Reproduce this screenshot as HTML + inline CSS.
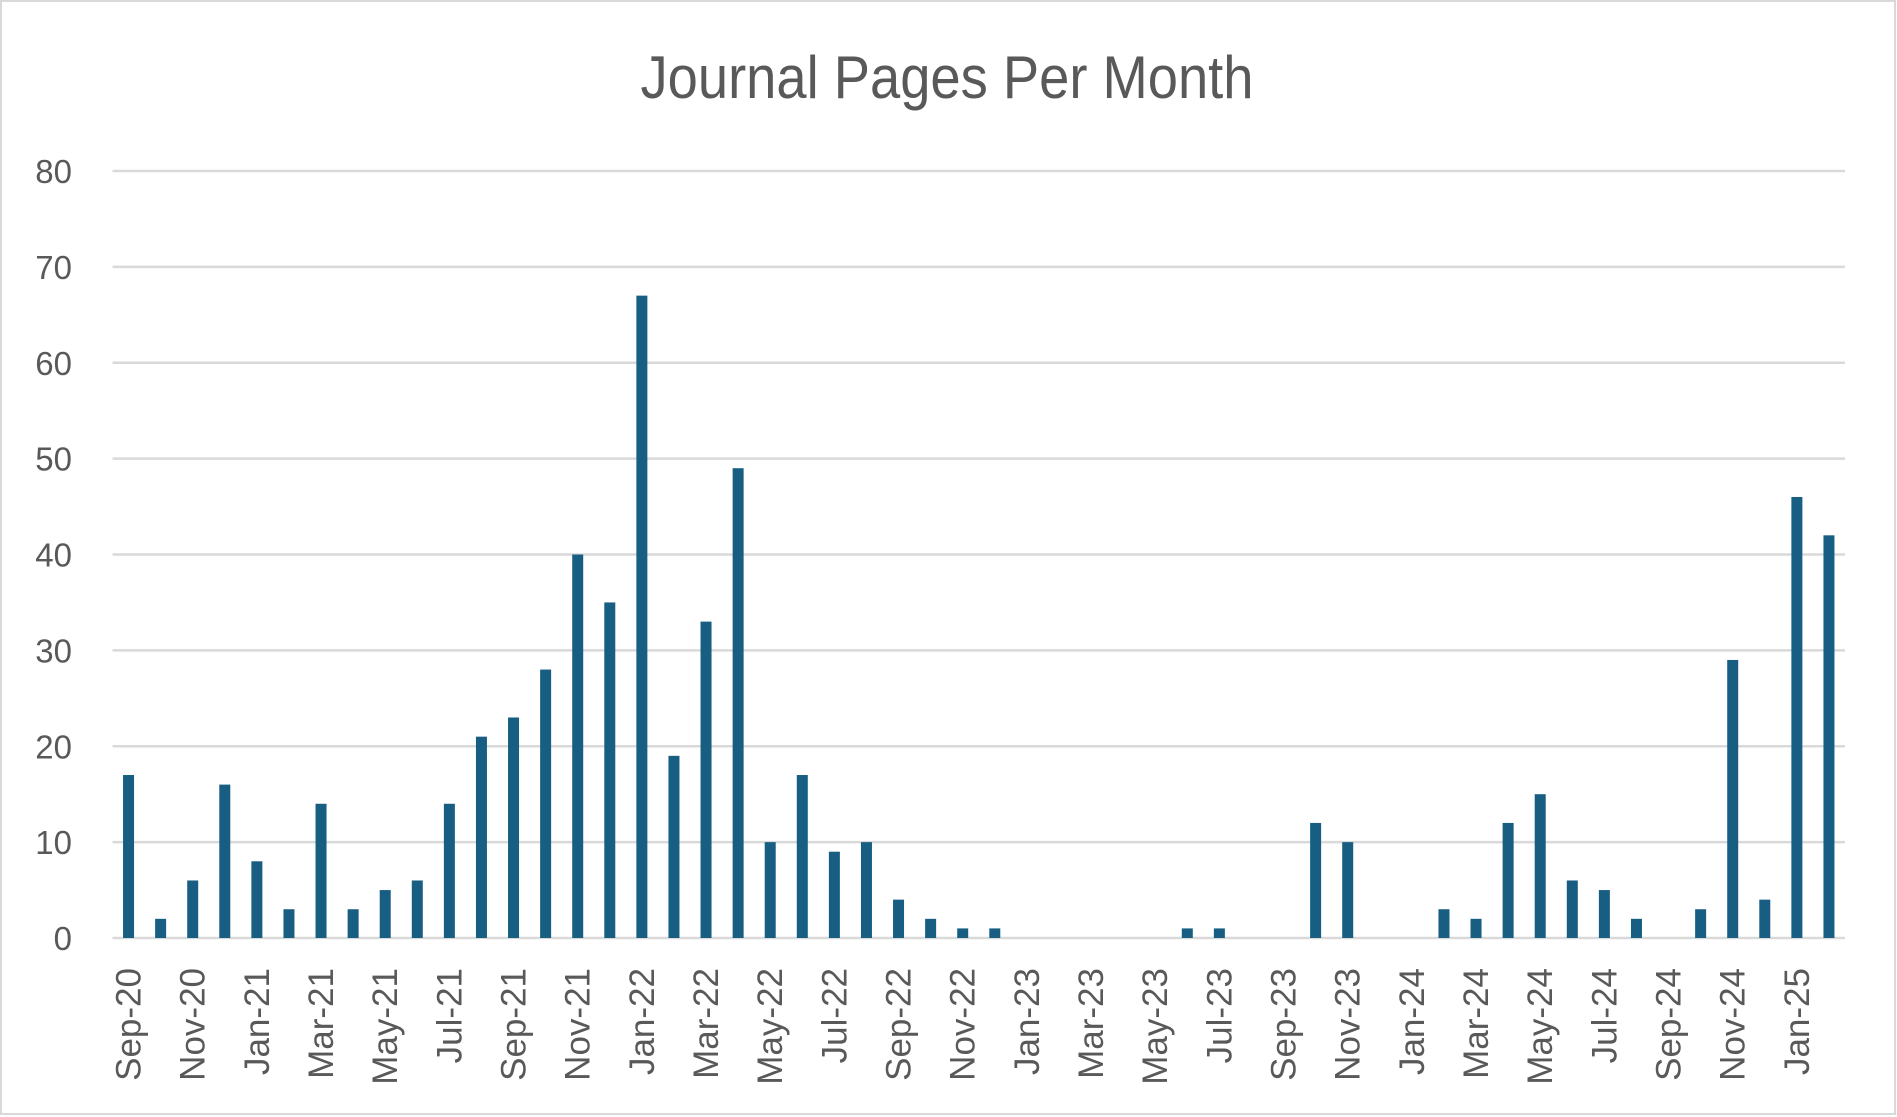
<!DOCTYPE html>
<html><head><meta charset="utf-8"><style>
html,body{margin:0;padding:0;background:#fff;}
svg{display:block;font-family:"Liberation Sans",sans-serif;}
</style></head><body>
<svg width="1897" height="1117" viewBox="0 0 1897 1117" xmlns="http://www.w3.org/2000/svg">
<rect x="1" y="1" width="1894" height="1113" fill="#fff" stroke="#d9d9d9" stroke-width="2"/>
<text x="947" y="98" text-anchor="middle" font-size="60" fill="#595959" textLength="613" lengthAdjust="spacingAndGlyphs">Journal Pages Per Month</text>
<g id="grid" stroke="#d9d9d9" stroke-width="2.5"></g>
<g id="ylab" font-size="33" fill="#595959" text-anchor="end"></g>
<g id="bars" fill="#175e82"></g>
<g id="xlab" font-size="35" fill="#595959" text-anchor="end"></g>
<script>
var ns="http://www.w3.org/2000/svg";
var y0=938,per=(938-171)/80,x0=112.5,step=1732.5/54;
var g=document.getElementById('grid'),yl=document.getElementById('ylab');
for(var v=0;v<=80;v+=10){var y=y0-v*per;
var l=document.createElementNS(ns,'line');l.setAttribute('x1',x0);l.setAttribute('x2',1845);l.setAttribute('y1',y);l.setAttribute('y2',y);g.appendChild(l);
var t=document.createElementNS(ns,'text');t.setAttribute('x',72);t.setAttribute('y',y+12);t.textContent=v;yl.appendChild(t);}
var vals=[17,2,6,16,8,3,14,3,5,6,14,21,23,28,40,35,67,19,33,49,10,17,9,10,4,2,1,1,0,0,0,0,0,1,1,0,0,12,10,0,0,3,2,12,15,6,5,2,0,3,29,4,46,42];
var mn=['Jan','Feb','Mar','Apr','May','Jun','Jul','Aug','Sep','Oct','Nov','Dec'];
var b=document.getElementById('bars'),xl=document.getElementById('xlab');
for(var i=0;i<54;i++){var cx=x0+step*(i+0.5);var v=vals[i];
if(v>0){var r=document.createElementNS(ns,'rect');r.setAttribute('x',cx-5.5);r.setAttribute('width',11);r.setAttribute('y',y0-v*per);r.setAttribute('height',v*per);b.appendChild(r);}
if(i%2==0){var m=(8+i)%12,yr=20+Math.floor((8+i)/12);
var t=document.createElementNS(ns,'text');t.setAttribute('transform','translate('+(cx+12)+',968) rotate(-90)');t.setAttribute('x',0);t.setAttribute('y',0);t.textContent=mn[m]+'-'+yr;xl.appendChild(t);}}
</script>
</svg>
</body></html>
